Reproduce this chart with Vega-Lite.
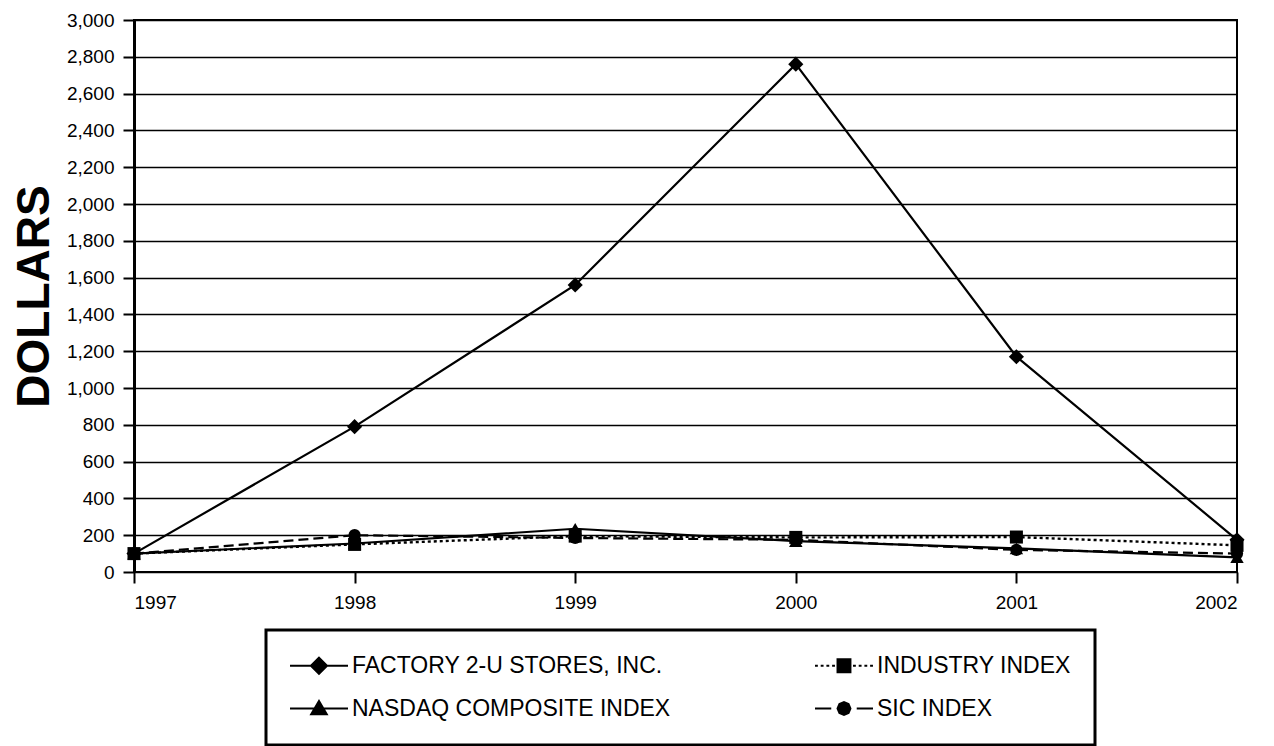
{
  "$schema": "https://vega.github.io/schema/vega-lite/v6.json",
  "autosize": "none",
  "padding": {"left": 134, "top": 20, "right": 37, "bottom": 174},
  "width": 1103,
  "height": 552,
  "background": "white",
  "config": {
    "view": {"stroke": "black", "strokeWidth": 2},
    "font": "Liberation Sans"
  },
  "data": {
    "values": [
      {"year": 1997, "series": "FACTORY 2-U STORES, INC.", "value": 100},
      {"year": 1998, "series": "FACTORY 2-U STORES, INC.", "value": 790},
      {"year": 1999, "series": "FACTORY 2-U STORES, INC.", "value": 1560},
      {"year": 2000, "series": "FACTORY 2-U STORES, INC.", "value": 2760},
      {"year": 2001, "series": "FACTORY 2-U STORES, INC.", "value": 1170},
      {"year": 2002, "series": "FACTORY 2-U STORES, INC.", "value": 175},
      {"year": 1997, "series": "INDUSTRY INDEX", "value": 100},
      {"year": 1998, "series": "INDUSTRY INDEX", "value": 150},
      {"year": 1999, "series": "INDUSTRY INDEX", "value": 195},
      {"year": 2000, "series": "INDUSTRY INDEX", "value": 188},
      {"year": 2001, "series": "INDUSTRY INDEX", "value": 190},
      {"year": 2002, "series": "INDUSTRY INDEX", "value": 145},
      {"year": 1997, "series": "NASDAQ COMPOSITE INDEX", "value": 100},
      {"year": 1998, "series": "NASDAQ COMPOSITE INDEX", "value": 155},
      {"year": 1999, "series": "NASDAQ COMPOSITE INDEX", "value": 235},
      {"year": 2000, "series": "NASDAQ COMPOSITE INDEX", "value": 168},
      {"year": 2001, "series": "NASDAQ COMPOSITE INDEX", "value": 128},
      {"year": 2002, "series": "NASDAQ COMPOSITE INDEX", "value": 80},
      {"year": 1997, "series": "SIC INDEX", "value": 100},
      {"year": 1998, "series": "SIC INDEX", "value": 200},
      {"year": 1999, "series": "SIC INDEX", "value": 185},
      {"year": 2000, "series": "SIC INDEX", "value": 175},
      {"year": 2001, "series": "SIC INDEX", "value": 120},
      {"year": 2002, "series": "SIC INDEX", "value": 100}
    ]
  },
  "encoding": {
    "x": {
      "field": "year",
      "type": "quantitative",
      "scale": {"domain": [1997, 2002], "nice": false, "zero": false},
      "axis": {
        "title": null,
        "values": [1997, 1998, 1999, 2000, 2001, 2002],
        "format": "d",
        "grid": false,
        "domain": false,
        "labelFont": "Liberation Sans",
        "labelFontSize": 19,
        "labelColor": "black",
        "tickColor": "black",
        "tickSize": 11,
        "tickWidth": 2,
        "labelPadding": 10
      }
    },
    "y": {
      "field": "value",
      "type": "quantitative",
      "scale": {"domain": [0, 3000], "nice": false},
      "axis": {
        "title": "DOLLARS",
        "titleFont": "Liberation Sans",
        "titleFontSize": 46,
        "titleFontWeight": "bold",
        "titleColor": "black",
        "titleAngle": -90,
        "titleAlign": "center",
        "titleBaseline": "middle",
        "titleX": -100,
        "titleY": 276,
        "values": [0, 200, 400, 600, 800, 1000, 1200, 1400, 1600, 1800, 2000, 2200, 2400, 2600, 2800, 3000],
        "format": ",d",
        "grid": true,
        "gridColor": "black",
        "gridWidth": 1.6,
        "domainColor": "black",
        "domainWidth": 3,
        "labelFont": "Liberation Sans",
        "labelFontSize": 19,
        "labelColor": "black",
        "tickColor": "black",
        "tickSize": 11,
        "tickWidth": 2,
        "labelPadding": 9
      }
    }
  },
  "layer": [
    {
      "transform": [{"filter": "datum.series === 'FACTORY 2-U STORES, INC.'"}],
      "mark": {"type": "line", "color": "black", "strokeWidth": 2.2}
    },
    {
      "transform": [{"filter": "datum.series === 'INDUSTRY INDEX'"}],
      "mark": {"type": "line", "color": "black", "strokeWidth": 2.4, "strokeDash": [3, 3]}
    },
    {
      "transform": [{"filter": "datum.series === 'NASDAQ COMPOSITE INDEX'"}],
      "mark": {"type": "line", "color": "black", "strokeWidth": 2.2}
    },
    {
      "transform": [{"filter": "datum.series === 'SIC INDEX'"}],
      "mark": {"type": "line", "color": "black", "strokeWidth": 2.2, "strokeDash": [10, 5]}
    },
    {
      "transform": [{"filter": "datum.series === 'FACTORY 2-U STORES, INC.'"}],
      "mark": {"type": "point", "shape": "diamond", "filled": true, "color": "black", "opacity": 1, "size": 230}
    },
    {
      "transform": [{"filter": "datum.series === 'INDUSTRY INDEX'"}],
      "mark": {"type": "point", "shape": "square", "filled": true, "color": "black", "opacity": 1, "size": 170}
    },
    {
      "transform": [{"filter": "datum.series === 'NASDAQ COMPOSITE INDEX'"}],
      "mark": {"type": "point", "shape": "triangle-up", "filled": true, "color": "black", "opacity": 1, "size": 180}
    },
    {
      "transform": [{"filter": "datum.series === 'SIC INDEX'"}],
      "mark": {"type": "point", "shape": "circle", "filled": true, "color": "black", "opacity": 1, "size": 150}
    },
    {
      "mark": {"type": "point", "filled": true, "color": "black", "size": 361},
      "encoding": {
        "opacity": {"value": 0},
        "shape": {
          "field": "series",
          "type": "nominal",
          "scale": {
            "domain": ["FACTORY 2-U STORES, INC.", "INDUSTRY INDEX", "NASDAQ COMPOSITE INDEX", "SIC INDEX"],
            "range": [
              "M-1.21,0L4.895,0M1.842,-0.85L2.69,0L1.842,0.85L0.99,0Z",
              "M-1.21,0L-0.91,0M-0.61,0L-0.31,0M-0.01,0L0.29,0M0.59,0L0.89,0M2.79,0L3.09,0M3.39,0L3.69,0M3.99,0L4.29,0M4.59,0L4.89,0M1.16,-0.68L2.52,-0.68L2.52,0.68L1.16,0.68Z",
              "M-1.21,0L4.895,0M1.842,-0.8L2.66,0.6L1.02,0.6Z",
              "M-1.21,0L0.5,0M3.18,0L4.895,0M2.52,0L2.32,0.48L1.84,0.68L1.36,0.48L1.16,0L1.36,-0.48L1.84,-0.68L2.32,-0.48Z"
            ]
          },
          "legend": {
            "title": null,
            "orient": "none",
            "legendX": 132,
            "legendY": 610,
            "direction": "horizontal",
            "columns": 2,
            "columnPadding": 140,
            "rowPadding": 18,
            "padding": 24,
            "fillColor": "white",
            "strokeColor": "black",
            "labelFont": "Liberation Sans",
            "labelFontSize": 23,
            "labelColor": "black",
            "labelLimit": 0,
            "labelOffset": 39,
            "symbolSize": 361,
            "symbolStrokeWidth": 2,
            "symbolStrokeColor": "black",
            "symbolFillColor": "black",
            "symbolOpacity": 1,
            "encoding": {
              "legend": {"strokeWidth": {"value": 3}},
              "symbols": {
                "stroke": {"value": "black"},
                "fill": {"value": "black"},
                "strokeWidth": {"value": 2},
                "opacity": {"value": 1}
              }
            }
          }
        }
      }
    }
  ]
}
